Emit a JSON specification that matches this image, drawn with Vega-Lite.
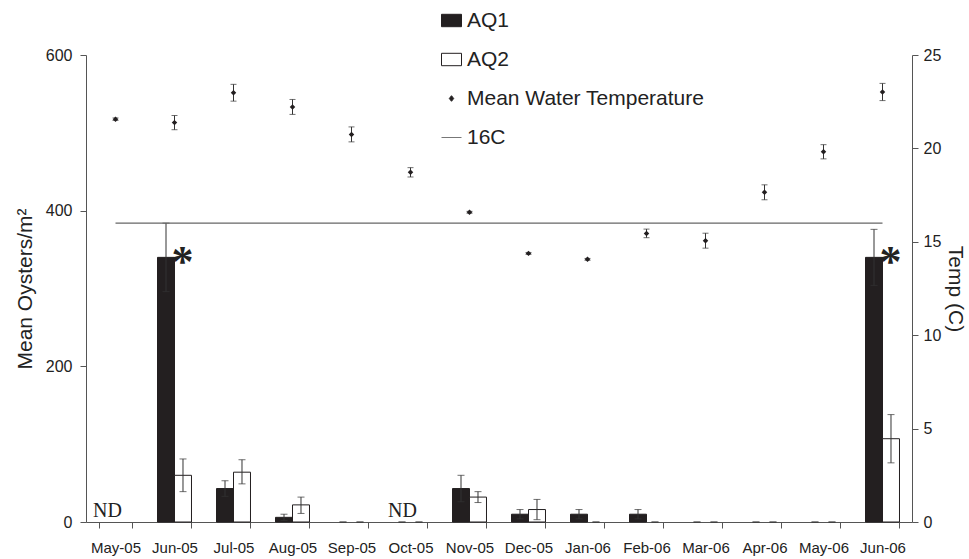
{
  "$schema": "https://vega.github.io/schema/vega-lite/v6.json",
  "width": 826,
  "height": 467,
  "autosize": {"type": "none"},
  "padding": {"left": 86, "top": 55, "right": 57, "bottom": 37},
  "background": "white",
  "config": {
    "view": {"stroke": null},
    "font": "Liberation Sans",
    "axis": {
      "grid": false,
      "domainColor": "#555555",
      "tickColor": "#555555",
      "labelColor": "#222222",
      "labelFont": "Liberation Sans",
      "labelFontSize": 16,
      "titleFont": "Liberation Sans",
      "titleFontSize": 21,
      "titleFontWeight": "normal",
      "titleColor": "#222222",
      "tickSize": 6
    }
  },
  "datasets": {
    "oysters": [
      {"month": "Jun-05", "site": "AQ1", "mean": 340, "lo": 296, "hi": 384},
      {"month": "Jun-05", "site": "AQ2", "mean": 60, "lo": 39, "hi": 81},
      {"month": "Jul-05", "site": "AQ1", "mean": 43, "lo": 33, "hi": 53},
      {"month": "Jul-05", "site": "AQ2", "mean": 64, "lo": 49, "hi": 80},
      {"month": "Aug-05", "site": "AQ1", "mean": 6, "lo": 2, "hi": 10},
      {"month": "Aug-05", "site": "AQ2", "mean": 22, "lo": 11, "hi": 32},
      {"month": "Sep-05", "site": "AQ1", "mean": 0, "lo": 0, "hi": 0},
      {"month": "Sep-05", "site": "AQ2", "mean": 0, "lo": 0, "hi": 0},
      {"month": "Oct-05", "site": "AQ1", "mean": 0, "lo": 0, "hi": 0},
      {"month": "Oct-05", "site": "AQ2", "mean": 0, "lo": 0, "hi": 0},
      {"month": "Nov-05", "site": "AQ1", "mean": 43, "lo": 26, "hi": 60},
      {"month": "Nov-05", "site": "AQ2", "mean": 32, "lo": 25, "hi": 39},
      {"month": "Dec-05", "site": "AQ1", "mean": 10, "lo": 4, "hi": 16},
      {"month": "Dec-05", "site": "AQ2", "mean": 16, "lo": 3, "hi": 29},
      {"month": "Jan-06", "site": "AQ1", "mean": 10, "lo": 4, "hi": 16},
      {"month": "Jan-06", "site": "AQ2", "mean": 0, "lo": 0, "hi": 0},
      {"month": "Feb-06", "site": "AQ1", "mean": 10, "lo": 4, "hi": 16},
      {"month": "Feb-06", "site": "AQ2", "mean": 0, "lo": 0, "hi": 0},
      {"month": "Mar-06", "site": "AQ1", "mean": 0, "lo": 0, "hi": 0},
      {"month": "Mar-06", "site": "AQ2", "mean": 0, "lo": 0, "hi": 0},
      {"month": "Apr-06", "site": "AQ1", "mean": 0, "lo": 0, "hi": 0},
      {"month": "Apr-06", "site": "AQ2", "mean": 0, "lo": 0, "hi": 0},
      {"month": "May-06", "site": "AQ1", "mean": 0, "lo": 0, "hi": 0},
      {"month": "May-06", "site": "AQ2", "mean": 0, "lo": 0, "hi": 0},
      {"month": "Jun-06", "site": "AQ1", "mean": 340, "lo": 304, "hi": 376},
      {"month": "Jun-06", "site": "AQ2", "mean": 107, "lo": 76, "hi": 138}
    ],
    "notes": [
      {"month": "May-05", "label": "ND", "y": 0},
      {"month": "Oct-05", "label": "ND", "y": 0},
      {"month": "Jun-05", "label": "*", "y": 340},
      {"month": "Jun-06", "label": "*", "y": 340}
    ],
    "temps": [
      {"month": "May-05", "temp": 21.56, "lo": 21.5, "hi": 21.63, "ref": 16},
      {"month": "Jun-05", "temp": 21.38, "lo": 21.0, "hi": 21.76, "ref": 16},
      {"month": "Jul-05", "temp": 22.98, "lo": 22.53, "hi": 23.43, "ref": 16},
      {"month": "Aug-05", "temp": 22.22, "lo": 21.82, "hi": 22.62, "ref": 16},
      {"month": "Sep-05", "temp": 20.75, "lo": 20.35, "hi": 21.15, "ref": 16},
      {"month": "Oct-05", "temp": 18.72, "lo": 18.47, "hi": 18.97, "ref": 16},
      {"month": "Nov-05", "temp": 16.58, "lo": 16.53, "hi": 16.63, "ref": 16},
      {"month": "Dec-05", "temp": 14.38, "lo": 14.33, "hi": 14.43, "ref": 16},
      {"month": "Jan-06", "temp": 14.06, "lo": 14.01, "hi": 14.11, "ref": 16},
      {"month": "Feb-06", "temp": 15.45, "lo": 15.22, "hi": 15.68, "ref": 16},
      {"month": "Mar-06", "temp": 15.06, "lo": 14.66, "hi": 15.46, "ref": 16},
      {"month": "Apr-06", "temp": 17.65, "lo": 17.25, "hi": 18.05, "ref": 16},
      {"month": "May-06", "temp": 19.82, "lo": 19.44, "hi": 20.2, "ref": 16},
      {"month": "Jun-06", "temp": 23.02, "lo": 22.56, "hi": 23.48, "ref": 16}
    ]
  },
  "layer": [
    {
      "layer": [
        {
          "data": {"name": "oysters"},
          "transform": [{"filter": "datum.mean > 0"}],
          "mark": {"type": "bar", "stroke": "#231f20", "strokeWidth": 1},
          "encoding": {
            "x": {
              "field": "month", "type": "nominal", "title": null,
              "scale": {
                "domain": ["May-05","Jun-05","Jul-05","Aug-05","Sep-05","Oct-05","Nov-05","Dec-05","Jan-06","Feb-06","Mar-06","Apr-06","May-06","Jun-06"],
                "paddingInner": 0.424, "paddingOuter": 0.212
              },
              "axis": {"labelAngle": 0, "tickBand": "extent", "labelPadding": 12, "labelFontSize": 15}
            },
            "xOffset": {"field": "site", "type": "nominal", "scale": {"domain": ["AQ1", "AQ2"], "paddingInner": 0, "paddingOuter": 0}},
            "y": {
              "field": "mean", "type": "quantitative",
              "scale": {"domain": [0, 600], "nice": false},
              "axis": {"values": [0, 200, 400, 600], "title": "Mean Oysters/m²", "labelPadding": 8, "titlePadding": 10}
            },
            "fill": {
              "field": "site", "type": "nominal",
              "scale": {"domain": ["AQ1", "AQ2", "Mean Water Temperature", "16C"], "range": ["#231f20", "#ffffff", "#231f20", "#777777"]},
              "legend": {
                "title": null,
                "orient": "none",
                "legendX": 355,
                "legendY": -45,
                "labelFont": "Liberation Sans",
                "labelFontSize": 21,
                "labelColor": "#222222",
                "labelOffset": 5,
                "labelLimit": 500,
                "rowPadding": 17,
                "symbolSize": 400,
                "encoding": {
                  "symbols": {
                    "shape": {"value": {"expr": "datum.value === 'Mean Water Temperature' ? 'M0,-0.28L0.22,0L0,0.28L-0.22,0Z' : datum.value === '16C' ? 'M-1,0H1' : 'M-1,-0.62H1V0.62H-1Z'"}},
                    "fill": {"value": {"expr": "datum.value === 'AQ2' ? '#ffffff' : datum.value === '16C' ? 'transparent' : '#231f20'"}},
                    "stroke": {"value": {"expr": "datum.value === '16C' ? '#777777' : '#231f20'"}},
                    "strokeWidth": {"value": 1},
                    "size": {"value": 400},
                    "opacity": {"value": 1}
                  }
                }
              }
            }
          }
        },
        {
          "data": {"name": "oysters"},
          "mark": {"type": "rule", "color": "#333333", "strokeWidth": 1},
          "encoding": {
            "x": {"field": "month", "type": "nominal"},
            "xOffset": {"field": "site", "type": "nominal"},
            "y": {"field": "lo", "type": "quantitative", "scale": {"domain": [0, 600], "nice": false}},
            "y2": {"field": "hi"}
          }
        },
        {
          "data": {"name": "oysters"},
          "mark": {"type": "tick", "color": "#333333", "thickness": 1, "size": 7},
          "encoding": {
            "x": {"field": "month", "type": "nominal"},
            "xOffset": {"field": "site", "type": "nominal"},
            "y": {"field": "hi", "type": "quantitative", "scale": {"domain": [0, 600], "nice": false}}
          }
        },
        {
          "data": {"name": "oysters"},
          "mark": {"type": "tick", "color": "#333333", "thickness": 1, "size": 7},
          "encoding": {
            "x": {"field": "month", "type": "nominal"},
            "xOffset": {"field": "site", "type": "nominal"},
            "y": {"field": "lo", "type": "quantitative", "scale": {"domain": [0, 600], "nice": false}}
          }
        },
        {
          "data": {"name": "notes"},
          "transform": [{"filter": "datum.label === 'ND'"}],
          "mark": {"type": "text", "font": "Liberation Serif", "fontSize": 20, "color": "#222222", "baseline": "alphabetic", "align": "center", "dx": -8, "dy": -5},
          "encoding": {
            "x": {"field": "month", "type": "nominal"},
            "y": {"field": "y", "type": "quantitative", "scale": {"domain": [0, 600], "nice": false}},
            "text": {"field": "label"}
          }
        },
        {
          "data": {"name": "notes"},
          "transform": [{"filter": "datum.label === '*'"}],
          "mark": {"type": "text", "font": "Liberation Serif", "fontWeight": "bold", "fontSize": 44, "color": "#222222", "baseline": "alphabetic", "align": "center", "dx": 8, "dy": 19},
          "encoding": {
            "x": {"field": "month", "type": "nominal"},
            "y": {"field": "y", "type": "quantitative", "scale": {"domain": [0, 600], "nice": false}},
            "text": {"field": "label"}
          }
        }
      ]
    },
    {
      "data": {"name": "temps"},
      "layer": [
        {
          "mark": {"type": "line", "color": "#666666", "strokeWidth": 1.3},
          "encoding": {
            "x": {"field": "month", "type": "nominal"},
            "y": {
              "field": "ref", "type": "quantitative",
              "scale": {"domain": [0, 25], "nice": false},
              "axis": {"orient": "right", "values": [0, 5, 10, 15, 20, 25], "title": "Temp (C)", "labelPadding": 5, "titlePadding": 4}
            }
          }
        },
        {
          "mark": {"type": "rule", "color": "#333333", "strokeWidth": 1},
          "encoding": {
            "x": {"field": "month", "type": "nominal"},
            "y": {"field": "lo", "type": "quantitative", "scale": {"domain": [0, 25], "nice": false}},
            "y2": {"field": "hi"}
          }
        },
        {
          "mark": {"type": "tick", "color": "#333333", "thickness": 1, "size": 6},
          "encoding": {
            "x": {"field": "month", "type": "nominal"},
            "y": {"field": "hi", "type": "quantitative", "scale": {"domain": [0, 25], "nice": false}}
          }
        },
        {
          "mark": {"type": "tick", "color": "#333333", "thickness": 1, "size": 6},
          "encoding": {
            "x": {"field": "month", "type": "nominal"},
            "y": {"field": "lo", "type": "quantitative", "scale": {"domain": [0, 25], "nice": false}}
          }
        },
        {
          "mark": {"type": "point", "shape": "diamond", "filled": true, "size": 30, "color": "#231f20", "opacity": 1},
          "encoding": {
            "x": {"field": "month", "type": "nominal"},
            "y": {"field": "temp", "type": "quantitative", "scale": {"domain": [0, 25], "nice": false}}
          }
        }
      ]
    }
  ],
  "resolve": {"scale": {"y": "independent"}}
}
